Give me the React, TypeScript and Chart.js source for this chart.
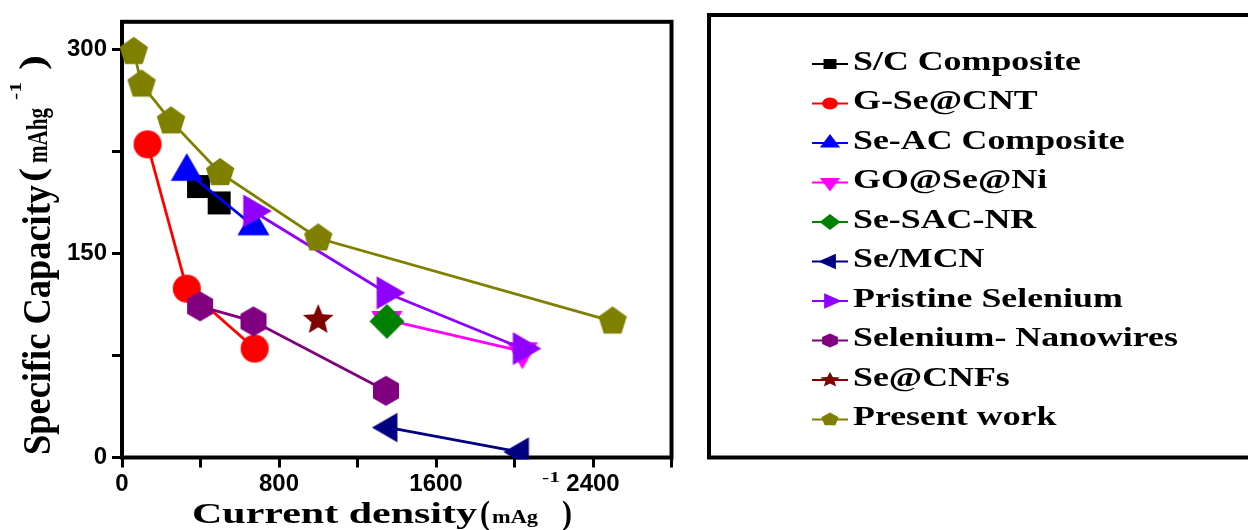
import React, { useEffect, useRef } from "react";
import { Chart, registerables } from "chart.js";
Chart.register(...registerables);

// ---- data ----
const xTickValues = [0, 400, 800, 1200, 1600, 2000, 2400, 2800];
const xTickLabeled = [0, 800, 1600, 2400];
const yTickValues = [0, 75, 150, 225, 300];
const yTickLabeled = [0, 150, 300];
const xMin = 0;
const xMax = 2800;
const yMin = 0;
const yMax = 320;

const seriesNames = [
  "S/C Composite",
  "G-Se@CNT",
  "Se-AC Composite",
  "GO@Se@Ni",
  "Se-SAC-NR",
  "Se/MCN",
  "Pristine Selenium",
  "Selenium- Nanowires",
  "Se@CNFs",
  "Present work",
];

const scX = [390, 495];
const scY = [199, 187];
const gseX = [130, 330, 676];
const gseY = [230, 124, 80];
const seacX = [330, 670];
const seacY = [210, 170];
const goX = [1350, 2040];
const goY = [101, 78];
const sacX = [1350];
const sacY = [100];
const mcnX = [1360, 2030];
const mcnY = [22, 4];
const priX = [666, 1346, 2040];
const priY = [181, 121, 80];
const nwX = [398, 670, 1345];
const nwY = [111, 100, 49];
const cnfX = [1000];
const cnfY = [101];
const presX = [60, 100, 250, 500, 1000, 2500];
const presY = [298, 274, 247, 209, 161, 100];

const seriesX = [scX, gseX, seacX, goX, sacX, mcnX, priX, nwX, cnfX, presX];
const seriesY = [scY, gseY, seacY, goY, sacY, mcnY, priY, nwY, cnfY, presY];

// ---- styles ----
const colors = [
  "#000000",
  "#ff0000",
  "#0000ff",
  "#ff00ff",
  "#008000",
  "#000080",
  "#8f00ff",
  "#800080",
  "#800000",
  "#808000",
];
const shapes = [
  "square",
  "circle",
  "triUp",
  "triDown",
  "diamond",
  "triLeft",
  "triRight",
  "hexagon",
  "star",
  "pentagon",
];
const markerR = [11.5, 14, 18.5, 18, 17.5, 17, 19, 15, 16, 15];
const legendR = [5, 6, 9, 9, 8, 9, 9, 7, 8, 7];

const SERIF = "'Liberation Serif', 'Times New Roman', serif";
const SANS = "'Liberation Sans', Arial, sans-serif";

function shapePath(ctx: CanvasRenderingContext2D, shape: string, x: number, y: number, R: number) {
  ctx.beginPath();
  const poly = (n: number, start: number, r: number) => {
    for (let k = 0; k < n; k++) {
      const a = start + (k * 2 * Math.PI) / n;
      const px = x + Math.cos(a) * r;
      const py = y + Math.sin(a) * r;
      if (k === 0) ctx.moveTo(px, py);
      else ctx.lineTo(px, py);
    }
    ctx.closePath();
  };
  const deg = Math.PI / 180;
  switch (shape) {
    case "circle":
      ctx.arc(x, y, R, 0, Math.PI * 2);
      break;
    case "square":
      ctx.rect(x - R, y - R, 2 * R, 2 * R);
      break;
    case "triUp":
      poly(3, -90 * deg, R);
      break;
    case "triDown":
      poly(3, 90 * deg, R);
      break;
    case "triRight":
      poly(3, 0, R);
      break;
    case "triLeft":
      poly(3, 180 * deg, R);
      break;
    case "diamond":
      ctx.moveTo(x, y - R);
      ctx.lineTo(x + R, y);
      ctx.lineTo(x, y + R);
      ctx.lineTo(x - R, y);
      ctx.closePath();
      break;
    case "pentagon":
      poly(5, -90 * deg, R);
      break;
    case "hexagon":
      poly(6, -90 * deg, R);
      break;
    case "star": {
      for (let k = 0; k < 10; k++) {
        const a = -90 * deg + (k * Math.PI) / 5;
        const r = k % 2 === 0 ? R : R * 0.45;
        const px = x + Math.cos(a) * r;
        const py = y + Math.sin(a) * r;
        if (k === 0) ctx.moveTo(px, py);
        else ctx.lineTo(px, py);
      }
      ctx.closePath();
      break;
    }
  }
}

function makeMarker(shape: string, R: number, color: string): HTMLCanvasElement {
  const size = Math.ceil(2 * R + 4);
  const c = document.createElement("canvas");
  c.width = size;
  c.height = size;
  const ctx = c.getContext("2d")!;
  ctx.fillStyle = color;
  shapePath(ctx, shape, size / 2, size / 2, R);
  ctx.fill();
  return c;
}

function fitText(ctx: CanvasRenderingContext2D, text: string, size: number, x0: number, x1: number, baseline: number) {
  ctx.font = `bold ${size}px ${SERIF}`;
  const w = ctx.measureText(text).width;
  ctx.save();
  ctx.translate(x0, baseline);
  ctx.scale((x1 - x0) / w, 1);
  ctx.textAlign = "left";
  ctx.textBaseline = "alphabetic";
  ctx.fillText(text, 0, 0);
  ctx.restore();
}

function fitTextV(
  ctx: CanvasRenderingContext2D,
  text: string,
  size: number,
  yStart: number,
  yEnd: number,
  baseX: number,
  perp: number
) {
  ctx.font = `bold ${size}px ${SERIF}`;
  const w = ctx.measureText(text).width;
  ctx.save();
  ctx.translate(baseX, yStart);
  ctx.rotate(-Math.PI / 2);
  ctx.scale((yStart - yEnd) / w, perp);
  ctx.textAlign = "left";
  ctx.textBaseline = "alphabetic";
  ctx.fillText(text, 0, 0);
  ctx.restore();
}

const decorPlugin = {
  id: "decor",
  beforeDatasetsDraw(chart: any) {
    const { ctx, chartArea } = chart;
    ctx.save();
    ctx.strokeStyle = "#000";
    ctx.lineWidth = 4;
    ctx.strokeRect(chartArea.left, chartArea.top, chartArea.right - chartArea.left, chartArea.bottom - chartArea.top);
    ctx.restore();
  },
  afterDraw(chart: any) {
    const ctx: CanvasRenderingContext2D = chart.ctx;
    ctx.save();
    ctx.fillStyle = "#000";
    // x title
    fitText(ctx, "Current density", 30, 192, 477, 523);
    fitText(ctx, "(", 33, 480, 490, 524);
    fitText(ctx, "mAg", 18, 492, 538, 523);
    fitText(ctx, "-1", 15, 542, 560, 482);
    fitText(ctx, ")", 33, 562, 572, 524);
    // y title
    fitTextV(ctx, "Specific Capacity", 36, 455, 185, 50, 1.12);
    fitTextV(ctx, "(", 36, 182, 168, 44, 1.0);
    fitTextV(ctx, "mAhg", 21, 163, 108, 47, 1.4);
    fitTextV(ctx, "-1", 16, 100, 82, 21, 1.0);
    fitTextV(ctx, ")", 36, 70, 55, 44, 1.0);

    // legend box
    ctx.strokeStyle = "#000";
    ctx.lineWidth = 4;
    ctx.strokeRect(709, 15, 620, 442.5);

    // legend items
    ctx.font = `bold 28px ${SERIF}`;
    const sx = 228 / ctx.measureText(seriesNames[0]).width;
    const top = 60;
    const step = 39.5;
    seriesNames.forEach((name, i) => {
      const cy = top + i * step;
      const sy = cy + 4;
      ctx.strokeStyle = colors[i];
      ctx.lineWidth = 2;
      ctx.beginPath();
      ctx.moveTo(812, sy);
      ctx.lineTo(848, sy);
      ctx.stroke();
      ctx.save();
      ctx.translate(830, sy);
      ctx.scale(1.3, 1);
      ctx.fillStyle = colors[i];
      shapePath(ctx, shapes[i], 0, 0, legendR[i]);
      ctx.fill();
      ctx.restore();
      ctx.save();
      ctx.fillStyle = "#000";
      ctx.font = `bold 28px ${SERIF}`;
      ctx.translate(853, cy + 9.5);
      ctx.scale(sx, 1);
      ctx.textBaseline = "alphabetic";
      ctx.fillText(name, 0, 0);
      ctx.restore();
    });
    ctx.restore();
  },
};

export default function App() {
  const ref = useRef<HTMLCanvasElement | null>(null);
  useEffect(() => {
    document.body.style.margin = "0";
    const canvas = ref.current!;
    const N = seriesNames.length;
    const datasets = seriesNames.map((name, i) => ({
      label: name,
      data: seriesX[i].map((x, j) => ({ x, y: seriesY[i][j] })),
      borderColor: colors[i],
      backgroundColor: colors[i],
      borderWidth: 2.8,
      showLine: seriesX[i].length > 1,
      pointStyle: makeMarker(shapes[i], markerR[i], colors[i]),
      pointRadius: markerR[i],
      pointHoverRadius: markerR[i],
      tension: 0,
      order: N - i,
      clip: 2,
    }));
    const chart = new Chart(canvas, {
      type: "line",
      data: { datasets } as any,
      options: {
        responsive: false,
        animation: false,
        events: [],
        layout: { padding: { top: 16, right: 576.5, left: 0, bottom: 0 } },
        plugins: { legend: { display: false }, tooltip: { enabled: false } },
        scales: {
          x: {
            type: "linear",
            min: xMin,
            max: xMax,
            afterBuildTicks: (s: any) => {
              s.ticks = xTickValues.map((v) => ({ value: v }));
            },
            afterFit: (s: any) => {
              s.height = 72.5;
            },
            ticks: {
              autoSkip: false,
              maxRotation: 0,
              padding: 2,
              color: "#000",
              font: { family: SANS, size: 24, weight: "bold" },
              callback: (v: any) => (xTickLabeled.includes(Number(v)) ? String(v) : ""),
            },
            grid: { drawOnChartArea: false, drawTicks: true, tickLength: 10, tickWidth: 3, tickColor: "#000" },
            border: { display: false },
          },
          y: {
            type: "linear",
            min: yMin,
            max: yMax,
            afterBuildTicks: (s: any) => {
              s.ticks = yTickValues.map((v) => ({ value: v }));
            },
            afterFit: (s: any) => {
              s.width = 122;
            },
            ticks: {
              autoSkip: false,
              padding: 5,
              color: "#000",
              font: { family: SANS, size: 24, weight: "bold" },
              callback: (v: any) => (yTickLabeled.includes(Number(v)) ? String(v) : ""),
            },
            grid: { drawOnChartArea: false, drawTicks: true, tickLength: 10, tickWidth: 3, tickColor: "#000" },
            border: { display: false },
          },
        },
      } as any,
      plugins: [decorPlugin],
    });
    return () => chart.destroy();
  }, []);
  return (
    <div style={{ width: 1248, height: 530, background: "#fff" }}>
      <canvas ref={ref} width={1248} height={530} style={{ display: "block" }} />
    </div>
  );
}
